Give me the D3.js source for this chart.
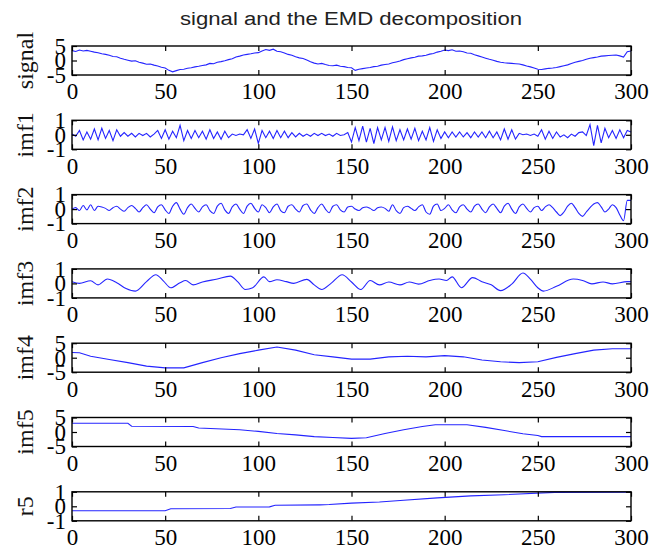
<!DOCTYPE html>
<html>
<head>
<meta charset="utf-8">
<script src="https://d3js.org/d3.v7.min.js"></script>
<style>
  body { margin: 0; background: #ffffff; }
  .axis text { font-family: "Liberation Serif", "Times New Roman", serif; font-size: 23px; fill: #000; }
  .ylabel { font-family: "Liberation Serif", "Times New Roman", serif; font-size: 24px; fill: #111; }
  .title { font-family: "Liberation Sans", Arial, sans-serif; font-size: 18px; fill: #222; }
</style>
</head>
<body>
<script>
// sample spacing of the dense series (signal, imf1, imf2)
var sampleStep = 2;

var signalValues = [3.4, 3.1, 3.6, 3.3, 3.5, 3.2, 2.9, 2.7, 2.3, 2.1, 1.8, 1.4, 1.3, 0.8, 0.4, 0.1,
  -0.2, -0.1, -0.6, -0.9, -1.3, -1.2, -1.6, -1.9, -2.3, -2.6, -3.4, -3.9, -3.5, -3.1, -3.0, -2.7,
  -2.5, -2.2, -2.0, -1.7, -1.5, -1.0, -1.1, -0.6, -0.4, -0.1, 0.3, 0.6, 1.2, 1.5, 1.9, 2.1,
  2.3, 2.6, 2.7, 3.3, 3.8, 3.5, 3.9, 3.2, 3.0, 2.6, 2.1, 1.8, 1.3, 0.9, 0.7, 0.2, -0.4, -0.9,
  -1.2, -1.0, -1.4, -1.7, -1.8, -1.6, -2.0, -2.1, -2.4, -2.5, -3.4, -3.0, -2.8, -2.6, -2.4, -2.1,
  -2.0, -1.6, -1.4, -1.2, -0.8, -0.5, -0.2, 0.3, 0.6, 0.9, 1.1, 1.5, 1.6, 1.8, 2.2, 2.4,
  2.9, 3.2, 3.6, 3.4, 3.7, 3.2, 3.3, 3.0, 2.6, 2.5, 2.0, 1.6, 1.2, 0.8, 0.4, 0.1, -0.3, -0.6,
  -0.8, -0.9, -1.0, -1.1, -1.2, -1.5, -1.9, -2.2, -2.6, -3.0, -3.1, -2.9, -2.7, -2.6, -2.4, -2.1,
  -1.8, -1.5, -1.0, -0.6, -0.3, 0.0, 0.4, 0.8, 1.0, 1.2, 1.5, 1.6, 1.7, 1.8, 1.9, 1.6,
  1.2, 3.0, 3.3];

var imf1Values = [0.05, -0.1, 0.3, -0.35, 0.2, -0.3,
  0.4, -0.35, 0.45, -0.25, 0.3, -0.4, 0.35,
  -0.1, 0.15, -0.1, 0.1, -0.15, 0.1, -0.05, 0.1, -0.15, 0.05,
  0.3, -0.25, 0.35, -0.3, 0.25, -0.2,
  0.65, -0.4, 0.3,
  -0.25, 0.3, -0.2, 0.25, -0.3, 0.35, -0.25, 0.2, -0.3, 0.25, -0.2,
  0.05, -0.05, 0.05, 0.0,
  0.35, -0.25, 0.4, -0.6,
  0.3, -0.2, 0.25, -0.25, 0.3, -0.2, 0.25, -0.2, 0.15, -0.15,
  0.1, -0.1, 0.05, -0.1, 0.1, -0.05, 0.1, -0.05, 0.05, -0.1, 0.1, -0.05, 0.0, 0.15,
  -0.5, 0.5, -0.4, 0.6, -0.5, 0.45, -0.6, 0.5, -0.35, 0.5, -0.45, 0.55, -0.4, 0.35,
  -0.35, 0.4, -0.3, 0.45, -0.4, 0.25, -0.35, 0.5, -0.45, 0.35, -0.25,
  0.2, -0.2, 0.2, -0.15, 0.2, -0.15, 0.15, -0.2, 0.2, -0.15, 0.2, -0.2, 0.25, -0.2, 0.2,
  -0.35, 0.4, -0.3, 0.35, -0.3, 0.1,
  0.0, 0.05, -0.05, 0.05, -0.1,
  0.35, -0.3, 0.25, -0.25, 0.2,
  -0.15, 0.0, -0.2, 0.05, -0.1, 0.15, 0.2, -0.05,
  0.7, -0.75, 0.65, -0.55, 0.45,
  -0.2, 0.3, -0.25, 0.35, -0.2, 0.3, 0.2];

var imf2Values = [0.0, 0.1, -0.1, 0.25, -0.05, 0.3, -0.1, 0.2, 0.15, 0.05, -0.1, 0.1, 0.2, 0.0,
  -0.15, 0.1, 0.25, 0.05, -0.2, 0.1, 0.3, 0.0, -0.25, 0.15, 0.3, -0.05,
  -0.3, 0.2, 0.45, 0.0, -0.35, 0.1, 0.35, 0.05, -0.2, 0.15, 0.3, -0.1, -0.3, 0.2, 0.4, -0.05,
  -0.3, 0.15, 0.35, 0.0, -0.3, 0.2, 0.4, 0.05, -0.2,
  0.3, 0.1, -0.25, 0.15, 0.35, -0.1, -0.25, 0.2, 0.3, 0.0, -0.2, 0.25, 0.35, -0.05, -0.3, 0.1,
  0.35, 0.0, -0.25, 0.2, 0.3, -0.05, -0.2, 0.15, 0.2,
  0.0, -0.1, 0.1, 0.15, 0.05, -0.1, 0.1, 0.15, 0.05, -0.15, 0.3, -0.1, -0.3, 0.1, 0.2, 0.05,
  -0.1, 0.15, 0.3, -0.2, -0.35, 0.2, 0.35, -0.1, 0.05,
  0.3, -0.05, -0.25, 0.15, 0.3, 0.0, -0.2, 0.2, 0.35, 0.0, -0.25, 0.15, 0.35, 0.05, -0.25, 0.2,
  0.4, 0.0, -0.3, 0.15, 0.35, 0.05, -0.2, 0.1, 0.2,
  -0.1, 0.15, 0.3, 0.1, -0.2, -0.45, -0.2, 0.2, 0.4, 0.1, -0.3, -0.5, -0.2, 0.1, 0.35, 0.45,
  0.15, -0.2, 0.0, 0.3, 0.1, -0.4, -0.8, 0.6, 0.6];

var imf3X = [0, 4, 10, 14, 19, 24, 29, 34, 40, 45, 49, 53, 58, 61, 65, 70, 78, 85, 89, 93, 97,
  103, 106, 110, 115, 119, 126, 130, 134, 139, 145, 150, 155, 160, 165, 170, 176, 181, 186, 192,
  197, 201, 204, 209, 215, 220, 225, 230, 236, 242, 246, 250, 253, 260, 269, 274, 279, 285, 290,
  298, 300];
var imf3Y = [0.12, 0.0, 0.18, -0.1, 0.3, 0.05, -0.35, -0.53, 0.12, 0.6, 0.18, -0.3, 0.05, 0.2,
  -0.1, 0.1, 0.3, 0.5, 0.1, -0.42, -0.3, 0.45, 0.12, 0.25, 0.12, 0.0, 0.28, -0.1, -0.42, 0.0,
  0.6, 0.1, -0.42, 0.2, -0.1, 0.1, -0.1, 0.1, -0.05, 0.2, 0.3, 0.2, 0.45, -0.3, 0.4, 0.12, -0.1,
  -0.5, -0.05, 0.72, 0.3, -0.3, -0.53, -0.2, 0.3, 0.2, -0.03, 0.1, -0.03, 0.12, 0.12];

var imf4X = [0, 4, 10, 20, 30, 40, 50, 60, 70, 80, 90, 100, 110, 120, 130, 140, 150, 160, 170,
  180, 190, 200, 210, 220, 230, 240, 250, 260, 270, 280, 290, 300];
var imf4Y = [1.8, 1.7, 0.5, -0.6, -1.7, -2.9, -3.5, -3.5, -1.7, 0.0, 1.4, 2.6, 3.7, 2.6, 1.0,
  0.3, -0.5, -0.5, 0.3, 0.5, 0.3, 0.7, 0.3, -0.8, -1.4, -1.7, -1.4, 0.1, 1.4, 2.6, 3.1, 3.1];

var imf5X = [0, 30, 32, 65, 68, 90, 100, 110, 120, 130, 140, 150, 158, 168, 178, 188, 195, 212,
  222, 232, 242, 250, 252, 300];
var imf5Y = [3.0, 3.0, 2.0, 1.9, 1.4, 0.8, 0.2, -0.5, -1.0, -1.6, -1.9, -2.2, -2.0, -0.5, 0.8,
  1.9, 2.5, 2.5, 1.6, 0.5, -0.6, -1.2, -1.6, -1.6];

var r5X = [0, 50, 53, 85, 88, 106, 109, 133, 138, 150, 165, 178, 196, 214, 232, 259, 300];
var r5Y = [-0.31, -0.31, -0.17, -0.15, -0.05, -0.04, 0.07, 0.1, 0.12, 0.22, 0.3, 0.42, 0.58,
  0.72, 0.8, 0.96, 0.97];

var panelNames = ["signal", "imf1", "imf2", "imf3", "imf4", "imf5", "r5"];
var xTicks = [0, 50, 100, 150, 200, 250, 300];
var yTicksWide = [-5, 0, 5];
var yTicksNarrow = [-1, 0, 1];

function sampled(values) {
  return values.map(function(v, i) { return [i * sampleStep, v]; });
}

function paired(xs, ys) {
  return xs.map(function(x, i) { return [x, ys[i]]; });
}

function makeChart() {
  var width = 649, height = 552;
  var left = 72, plotW = 559, plotH = 29;
  var firstTop = 46, gap = 74.3;

  var panels = [
    {data: sampled(signalValues), ticks: yTicksWide},
    {data: sampled(imf1Values), ticks: yTicksNarrow},
    {data: sampled(imf2Values), ticks: yTicksNarrow, curve: d3.curveMonotoneX},
    {data: paired(imf3X, imf3Y), ticks: yTicksNarrow, curve: d3.curveMonotoneX},
    {data: paired(imf4X, imf4Y), ticks: yTicksWide},
    {data: paired(imf5X, imf5Y), ticks: yTicksWide},
    {data: paired(r5X, r5Y), ticks: yTicksNarrow}
  ];

  var svg = d3.select("body")
              .append("svg")
              .attr("width", width)
              .attr("height", height);

  // the title in the picture is stretched wide, so fit it to that width
  svg.append("text")
     .attr("class", "title")
     .attr("x", 180)
     .attr("y", 25)
     .attr("textLength", 342)
     .attr("lengthAdjust", "spacingAndGlyphs")
     .text("signal and the EMD decomposition");

  var xScale = d3.scaleLinear().domain([0, 300]).range([0, plotW]);

  panels.forEach(function(p, i) {
    var top = firstTop + i * gap;
    var yScale = d3.scaleLinear()
                   .domain([p.ticks[0], p.ticks[p.ticks.length - 1]])
                   .range([plotH, 0]);

    var g = svg.append("g")
               .attr("transform", "translate(" + left + "," + top + ")");

    var line = d3.line()
                 .x(function(d) { return xScale(d[0]); })
                 .y(function(d) { return yScale(d[1]); })
                 .curve(p.curve || d3.curveLinear);

    g.append("path")
     .datum(p.data)
     .attr("d", line)
     .attr("fill", "none")
     .attr("stroke", "#2424ff")
     .attr("stroke-width", 1.1);

    // bottom axis with labels, ticks pointing in
    g.append("g")
     .attr("class", "axis")
     .attr("transform", "translate(0," + plotH + ")")
     .call(d3.axisBottom(xScale).tickValues(xTicks).tickSizeInner(-5).tickSizeOuter(0).tickPadding(8));

    g.append("g")
     .attr("class", "axis")
     .call(d3.axisTop(xScale).tickValues(xTicks).tickSizeInner(-5).tickSizeOuter(0).tickFormat(""));

    g.append("g")
     .attr("class", "axis")
     .call(d3.axisLeft(yScale).tickValues(p.ticks).tickSizeInner(-5).tickSizeOuter(0).tickPadding(6)
            .tickFormat(function(d) { return String(d); }));

    g.append("g")
     .attr("class", "axis")
     .attr("transform", "translate(" + plotW + ",0)")
     .call(d3.axisRight(yScale).tickValues(p.ticks).tickSizeInner(-5).tickSizeOuter(0).tickFormat(""));

    g.selectAll(".axis .domain").remove();
    g.selectAll(".axis line").attr("stroke", "#000").attr("stroke-width", 1.2);

    g.append("rect")
     .attr("width", plotW)
     .attr("height", plotH)
     .attr("fill", "none")
     .attr("stroke", "#000")
     .attr("stroke-width", 1.4);

    svg.append("text")
       .attr("class", "ylabel")
       .attr("transform", "translate(33," + (top + plotH / 2) + ") rotate(-90)")
       .attr("text-anchor", "middle")
       .text(panelNames[i]);
  });
}

window.onload = function() {
  makeChart();
};
</script>
</body>
</html>
